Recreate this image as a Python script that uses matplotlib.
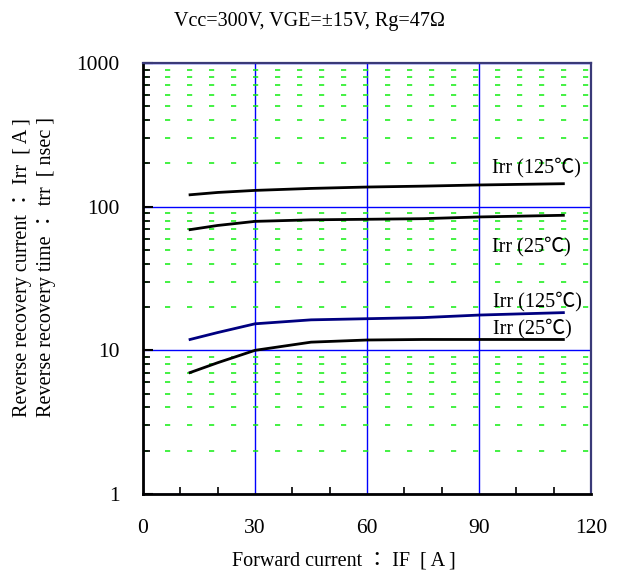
import matplotlib
matplotlib.use("Agg")
from matplotlib import pyplot as plt
from matplotlib.ticker import FixedLocator, NullFormatter

plt.rcParams['font.family'] = ['Liberation Serif', 'Noto Sans CJK JP', 'DejaVu Serif']
plt.rcParams['font.size'] = 14

# curves
forward_current = [12.6, 20, 30, 45, 60, 75, 90, 112.6]
trr_125 = [121, 125.6, 129.8, 134, 137, 139, 141.6, 144.5]
trr_25 = [69.2, 74, 79, 81, 81.7, 82.5, 84.8, 87.1]
irr_125 = [11.9, 13.3, 15.3, 16.3, 16.6, 16.9, 17.6, 18.3]
irr_25 = [7.0, 8.2, 10.0, 11.4, 11.8, 11.9, 11.9, 11.9]

curve_labels = ["Irr (125\u2103)", "Irr (25\u2103)", "Irr (125\u2103)", "Irr (25\u2103)"]
label_x = [93.5, 93.5, 93.8, 93.8]
label_y = [186, 53, 21.7, 14.2]

x_ticks = [0, 30, 60, 90, 120]
y_ticks = [1, 10, 100, 1000]

fig = plt.figure(figsize=(6.21, 5.75), dpi=100)
ax = fig.add_axes([0.2303, 0.1409, 0.7214, 0.7495])

ax.set_yscale('log')
ax.set_xlim(0, 120)
ax.set_ylim(1, 1000)

ax.set_xticks(x_ticks)
ax.set_xticklabels([str(v) for v in x_ticks])
ax.xaxis.set_minor_locator(FixedLocator([10, 20, 40, 50, 70, 80, 100, 110]))
ax.set_yticks(y_ticks)
ax.set_yticklabels([str(v) for v in y_ticks])
minors = [m * 10 ** d for d in range(3) for m in range(2, 10)]
ax.yaxis.set_minor_locator(FixedLocator(minors))
ax.yaxis.set_minor_formatter(NullFormatter())

ax.tick_params(which='major', direction='in', length=7, width=1.5, pad=17, labelsize=15.5)
ax.tick_params(axis='x', which='major', pad=18, length=0)
ax.tick_params(which='minor', direction='in', length=5, width=1.2)

ax.grid(which='major', color='#0000ff', linewidth=1.0)
ax.yaxis.grid(True, which='minor', color='#11ee11', linewidth=1.1, linestyle=(0, (3.4, 11)))

for side in ['left', 'bottom']:
    ax.spines[side].set_linewidth(2)
    ax.spines[side].set_color('black')
for side in ['top', 'right']:
    ax.spines[side].set_linewidth(1.6)
    ax.spines[side].set_color('#3a3a78')

ax.plot(forward_current, trr_125, color='black', lw=2)
ax.plot(forward_current, trr_25, color='black', lw=2)
ax.plot(forward_current, irr_125, color='#000080', lw=2)
ax.plot(forward_current, irr_25, color='black', lw=2)

for text, lx, ly in zip(curve_labels, label_x, label_y):
    ax.text(lx, ly, text, ha='left', va='center', fontsize=14.5)

fig.text(0.498, 0.962, "Vcc=300V, VGE=\u00b115V, Rg=47\u03a9", ha='center', va='center', fontsize=14.5)
fig.text(0.554, 0.025, "Forward current \uff1a IF  [ A ]", ha='center', va='center', fontsize=14.5)
fig.text(0.037, 0.535, "Reverse recovery current \uff1a Irr  [ A ]", rotation=90, ha='center', va='center', fontsize=14.5)
fig.text(0.0755, 0.535, "Reverse recovery time \uff1a trr  [ nsec ]", rotation=90, ha='center', va='center', fontsize=14.5)

fig.savefig("out.png", dpi=100)
